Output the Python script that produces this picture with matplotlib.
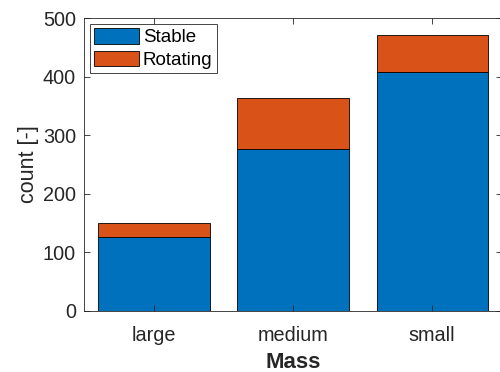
import numpy as np
import matplotlib
matplotlib.use('Agg')
import matplotlib.pyplot as plt

categories = ['large', 'medium', 'small']
stable = [126, 276, 409]
rotating = [25, 88, 62]

plt.rcParams['font.family'] = ['Liberation Sans', 'DejaVu Sans']
dark = '#262626'

fig = plt.figure(figsize=(5, 3.72), dpi=100)
ax = fig.add_axes([0.1686, 0.164, 0.835, 0.787])

x = np.arange(1, len(categories) + 1)
ax.bar(x, stable, width=0.8, color='#0072BD', edgecolor='black', linewidth=0.6, label='Stable')
ax.bar(x, rotating, width=0.8, bottom=stable, color='#D95319', edgecolor='black',
       linewidth=0.6, label='Rotating')

ax.set_xlim(0.5, 3.5)
ax.set_ylim(0, 500)
ax.set_xticks(x)
ax.set_xticklabels(categories)
ax.set_yticks([0, 100, 200, 300, 400, 500])
ax.tick_params(direction='in', length=4, width=0.6, colors=dark, labelsize=14.3,
               top=True, right=True, pad=6)
ax.tick_params(axis='x', pad=10.5)
for s in ax.spines.values():
    s.set_color(dark)
    s.set_linewidth(0.6)

ax.set_ylabel('count [-]', fontsize=15.5, color=dark, labelpad=3)
ax.set_xlabel('Mass', fontsize=16, fontweight='bold', color=dark, labelpad=5)

leg = ax.legend(loc='upper left', fontsize=13.5, handlelength=2.4, handleheight=0.9,
                handletextpad=0.18, borderaxespad=0.3, borderpad=0.23, labelspacing=0.24,
                fancybox=False, edgecolor=dark, framealpha=1)
leg.get_frame().set_linewidth(0.6)

fig.savefig('out.png', dpi=100)
